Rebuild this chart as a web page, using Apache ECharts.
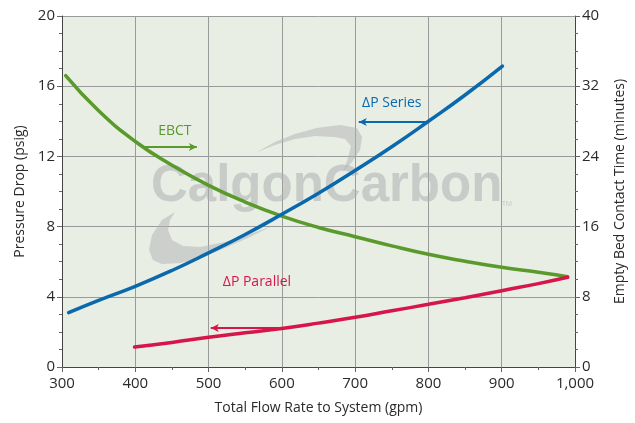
<!DOCTYPE html>
<html>
<head>
<meta charset="utf-8">
<script src="https://cdn.jsdelivr.net/npm/echarts@6/dist/echarts.min.js"></script>
<style>
html,body{margin:0;padding:0;background:#fff;}
#c{width:635px;height:423px;}
</style>
</head>
<body>
<div id="c"></div>
<script>
// Flow rate (gpm) and values
const seriesFlow = [309, 350, 400, 450, 500, 550, 600, 650, 700, 750, 800, 850, 901];
const seriesDP   = [3.1, 3.8, 4.6, 5.5, 6.5, 7.55, 8.7, 9.9, 11.2, 12.55, 14.0, 15.5, 17.15];

const parallelFlow = [399, 450, 500, 550, 600, 650, 700, 750, 800, 850, 900, 950, 990];
const parallelDP   = [1.14, 1.4, 1.69, 1.95, 2.2, 2.5, 2.83, 3.2, 3.57, 3.95, 4.35, 4.75, 5.11];

const ebctFlow = [305, 350, 400, 450, 500, 550, 600, 650, 700, 750, 800, 850, 900, 950, 990];
const ebctMin  = [33.2, 29.2, 25.7, 23.0, 20.7, 18.8, 17.2, 15.9, 14.85, 13.8, 12.84, 12.05, 11.36, 10.8, 10.3];

const xTicks = [300, 400, 500, 600, 700, 800, 900, 1000];
const leftTicks = [0, 4, 8, 12, 16, 20];
const rightTicks = [0, 8, 16, 24, 32, 40];

const zip = (a, b) => a.map((v, i) => [v, b[i]]);
const font = 'Open Sans';
const txt = '#2a2a2a';
const wm = 'rgba(175,175,180,0.5)';

const chart = echarts.init(document.getElementById('c'));
const axisCommon = {
  axisLine: {show: true, lineStyle: {color: '#444', width: 1}},
  axisTick: {show: true, inside: false, length: 5, lineStyle: {color: '#666'}},
  splitLine: {show: true, lineStyle: {color: '#9a9a9a', width: 1}},
  axisLabel: {color: txt, fontFamily: font, fontSize: 15},
  nameTextStyle: {color: txt, fontFamily: font, fontSize: 14}
};
chart.setOption({
  animation: false,
  backgroundColor: '#fff',
  grid: {left: 62, right: 55, top: 16, bottom: 56, show: true, backgroundColor: '#e8eee3', borderWidth: 0},
  graphic: [
    {type: 'polygon', z: 1, shape: {points: [[257,152],[275,142],[295,134],[317,128],[340,125],[357,128],[362,137],[360,150],[352,162],[343,172],[348,158],[351,146],[345,139],[335,137],[315,136],[295,139],[275,145]]},
     style: {fill: wm}},
    {type: 'polygon', z: 1, shape: {points: [[175,212],[162,220],[152,235],[149,250],[153,260],[162,264],[180,263],[200,258],[225,248],[250,237],[272,226],[250,234],[225,242],[200,247],[183,246],[172,240],[168,230],[170,220]]},
     style: {fill: wm}},
    {type: 'text', z: 1, left: 151, top: 161,
     style: {text: 'CalgonCarbon', fill: 'rgba(175,175,180,0.55)', font: 'bold 51px "Liberation Sans"'}},
    {type: 'text', z: 1, left: 502, top: 200,
     style: {text: 'TM', fill: 'rgba(175,175,180,0.6)', font: '7px "Open Sans"'}}
  ],
  xAxis: Object.assign({}, axisCommon, {
    type: 'value', min: 300, max: 1000, interval: 100,
    minorTick: {show: true, splitNumber: 2, length: 3, lineStyle: {color: '#666'}},
    name: 'Total Flow Rate to System (gpm)', nameLocation: 'middle', nameGap: 34,
    axisLabel: Object.assign({}, axisCommon.axisLabel, {margin: 9, formatter: v => v === 1000 ? '1,000' : String(v)})
  }),
  yAxis: [
    Object.assign({}, axisCommon, {
      type: 'value', min: 0, max: 20, interval: 4, position: 'left',
      minorTick: {show: true, splitNumber: 4, length: 3, lineStyle: {color: '#666'}},
      name: 'Pressure Drop (psig)', nameLocation: 'middle', nameGap: 34,
      axisLabel: Object.assign({}, axisCommon.axisLabel, {margin: 7})
    }),
    Object.assign({}, axisCommon, {
      type: 'value', min: 0, max: 40, interval: 8, position: 'right',
      minorTick: {show: true, splitNumber: 4, length: 3, lineStyle: {color: '#666'}},
      splitLine: {show: false},
      name: 'Empty Bed Contact Time (minutes)', nameLocation: 'middle', nameGap: 38, nameRotate: 90,
      axisLabel: Object.assign({}, axisCommon.axisLabel, {margin: 7})
    })
  ],
  series: [
    {
      name: 'ΔP Series', type: 'line', yAxisIndex: 0, smooth: true, showSymbol: false, z: 5,
      data: zip(seriesFlow, seriesDP),
      lineStyle: {color: '#0a69ad', width: 3.5, cap: 'round'},
      markLine: {silent: true, symbol: ['none', 'arrow'], symbolSize: [6, 8], label: {show: false},
        lineStyle: {color: '#0a69ad', width: 2, type: 'solid'},
        data: [[{coord: [800, 13.96]}, {coord: [705, 13.96]}]]},
      markPoint: {silent: true, symbol: 'circle', symbolSize: 0,
        label: {show: true, formatter: 'ΔP Series', color: '#0a69ad', fontFamily: font, fontSize: 14},
        data: [{coord: [750, 15.05]}]}
    },
    {
      name: 'ΔP Parallel', type: 'line', yAxisIndex: 0, smooth: true, showSymbol: false, z: 5,
      data: zip(parallelFlow, parallelDP),
      lineStyle: {color: '#d6164a', width: 3.5, cap: 'round'},
      markLine: {silent: true, symbol: ['none', 'arrow'], symbolSize: [6, 8], label: {show: false},
        lineStyle: {color: '#d6164a', width: 2, type: 'solid'},
        data: [[{coord: [601, 2.22]}, {coord: [503, 2.22]}]]},
      markPoint: {silent: true, symbol: 'circle', symbolSize: 0,
        label: {show: true, formatter: 'ΔP Parallel', color: '#d6164a', fontFamily: font, fontSize: 14},
        data: [{coord: [566, 4.82]}]}
    },
    {
      name: 'EBCT', type: 'line', yAxisIndex: 1, smooth: true, showSymbol: false, z: 4,
      data: zip(ebctFlow, ebctMin),
      lineStyle: {color: '#5a9a2c', width: 3.5, cap: 'round'},
      markLine: {silent: true, symbol: ['none', 'arrow'], symbolSize: [6, 8], label: {show: false},
        lineStyle: {color: '#5a9a2c', width: 2, type: 'solid'},
        data: [[{coord: [409, 25.07]}, {coord: [484, 25.07]}]]},
      markPoint: {silent: true, symbol: 'circle', symbolSize: 0,
        label: {show: true, formatter: 'EBCT', color: '#5a9a2c', fontFamily: font, fontSize: 14},
        data: [{coord: [454, 26.9]}]}
    }
  ]
});
</script>
</body>
</html>
